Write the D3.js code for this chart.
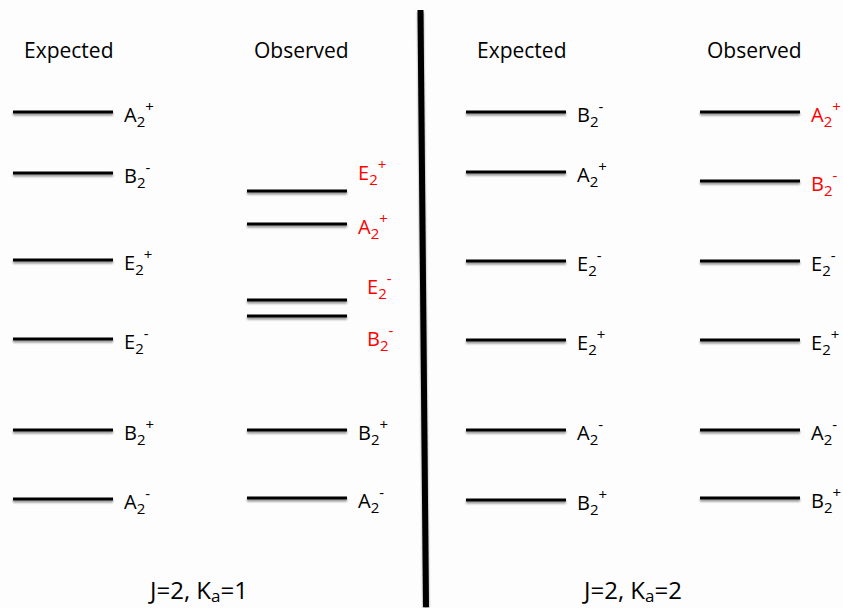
<!DOCTYPE html>
<html>
<head>
<meta charset="utf-8">
<script src="https://cdn.jsdelivr.net/npm/d3@7"></script>
<style>
  html, body { margin: 0; padding: 0; background: #fdfdfd; }
  svg { display: block; font-family: "Open Sans", "Noto Sans", sans-serif; }
</style>
</head>
<body>
<svg id="chart"></svg>
<script>
  // DATA
  const columns = ["Expected", "Observed"];
  const panelJ = [2, 2];
  const panelKa = [1, 2];

  // each level: symmetry letter, sign, energy (arbitrary units, high = top)
  const leftExpectedSym = ["A", "B", "E", "E", "B", "A"];
  const leftExpectedSign = ["+", "-", "+", "-", "+", "-"];
  const leftExpectedEnergy = [488, 427, 340, 261, 170, 101];

  const leftObservedSym = ["E", "A", "E", "B", "B", "A"];
  const leftObservedSign = ["+", "+", "-", "-", "+", "-"];
  const leftObservedEnergy = [409, 376, 300, 284, 170, 102];
  const leftObservedShifted = [true, true, true, true, false, false];

  const rightExpectedSym = ["B", "A", "E", "E", "A", "B"];
  const rightExpectedSign = ["-", "+", "-", "+", "-", "+"];
  const rightExpectedEnergy = [488, 428, 339, 260, 170, 100];

  const rightObservedSym = ["A", "B", "E", "E", "A", "B"];
  const rightObservedSign = ["+", "-", "-", "+", "-", "+"];
  const rightObservedEnergy = [488, 419, 339, 260, 170, 102];
  const rightObservedShifted = [true, true, false, false, false, false];

  // BUILD LEVEL TABLE
  const levels = [];
  function addColumn(panel, col, sym, sign, energy, shifted) {
    sym.forEach((s, i) => {
      levels.push({
        panel, col, sym: s, sign: sign[i], energy: energy[i],
        red: shifted ? shifted[i] : false, idx: i
      });
    });
  }
  addColumn(0, "Expected", leftExpectedSym, leftExpectedSign, leftExpectedEnergy);
  addColumn(0, "Observed", leftObservedSym, leftObservedSign, leftObservedEnergy, leftObservedShifted);
  addColumn(1, "Expected", rightExpectedSym, rightExpectedSign, rightExpectedEnergy);
  addColumn(1, "Observed", rightObservedSym, rightObservedSign, rightObservedEnergy, rightObservedShifted);

  // DIMENSIONS
  const dims = { width: 843, height: 608 };
  const LINE_LEN = 100;

  const svg = d3.select("#chart")
    .attr("width", dims.width)
    .attr("height", dims.height);

  // SCALES
  const y = d3.scaleLinear().domain([0, 600]).range([600, 0]);
  const xPanel = d3.scaleBand().domain([0, 1]).range([13, 919]);
  const xCol = d3.scalePoint().domain(columns).range([0, 234]);
  const lineX = (d) => xPanel(d.panel) + xCol(d.col);

  // crowded observed labels in the left panel get nudged
  const labelNudge = (d) => {
    if (d.panel === 0 && d.col === "Observed") {
      if (d.idx === 0) return { dx: 0, dy: -21 };
      if (d.idx === 2) return { dx: 9, dy: -16 };
      if (d.idx === 3) return { dx: 9, dy: 20 };
    }
    return { dx: 0, dy: 0 };
  };

  // SHADOW FILTER (user space, horizontal lines have a zero-height bbox)
  const defs = svg.append("defs");
  const f = defs.append("filter").attr("id", "shadow")
    .attr("filterUnits", "userSpaceOnUse")
    .attr("x", 0).attr("y", 0).attr("width", dims.width).attr("height", dims.height);
  f.append("feGaussianBlur").attr("in", "SourceAlpha").attr("stdDeviation", 1.2).attr("result", "blur");
  f.append("feOffset").attr("in", "blur").attr("dx", 0).attr("dy", 1.5).attr("result", "off");
  f.append("feComponentTransfer").attr("in", "off").attr("result", "soft")
    .append("feFuncA").attr("type", "linear").attr("slope", 0.45);
  const merge = f.append("feMerge");
  merge.append("feMergeNode").attr("in", "soft");
  merge.append("feMergeNode").attr("in", "SourceGraphic");

  svg.append("rect")
    .attr("width", dims.width)
    .attr("height", dims.height)
    .attr("fill", "#fdfdfd");

  // DIVIDER
  svg.append("line")
    .attr("x1", 420.5).attr("y1", 10)
    .attr("x2", 426).attr("y2", 607)
    .attr("stroke", "#000")
    .attr("stroke-width", 6)
    .attr("filter", "url(#shadow)");

  // COLUMN TITLES
  const titles = [];
  [0, 1].forEach((p) => columns.forEach((c) => titles.push({ panel: p, col: c })));
  svg.selectAll("text.title")
    .data(titles)
    .join("text")
    .attr("class", "title")
    .attr("x", (d) => xPanel(d.panel) + xCol(d.col) + (d.col === "Expected" ? 11 : 7))
    .attr("y", 58)
    .attr("font-size", 21)
    .attr("fill", "#000")
    .text((d) => d.col);

  // LEVEL LINES
  svg.append("g")
    .selectAll("line")
    .data(levels)
    .join("line")
    .attr("x1", lineX)
    .attr("x2", (d) => lineX(d) + LINE_LEN)
    .attr("y1", (d) => y(d.energy))
    .attr("y2", (d) => y(d.energy))
    .attr("stroke", "#000")
    .attr("stroke-width", 3)
    .attr("filter", "url(#shadow)");

  // LEVEL LABELS
  const labels = svg.append("g")
    .selectAll("text")
    .data(levels)
    .join("text")
    .attr("x", (d) => lineX(d) + LINE_LEN + 11 + labelNudge(d).dx)
    .attr("y", (d) => y(d.energy) + 10 + labelNudge(d).dy)
    .attr("font-size", 20)
    .attr("fill", (d) => (d.red ? "#f00" : "#000"));

  labels.append("tspan").text((d) => d.sym);
  labels.append("tspan").attr("dy", 5).attr("font-size", 15).text("2");
  labels.append("tspan")
    .attr("dy", -15)
    .attr("font-size", 15)
    .text((d) => (d.sign === "+" ? "+" : "-"));

  // FOOTERS
  const footerX = [150, 584];
  const footer = svg.selectAll("text.footer")
    .data([0, 1])
    .join("text")
    .attr("class", "footer")
    .attr("x", (d) => footerX[d])
    .attr("y", 599)
    .attr("font-size", 24)
    .attr("fill", "#000");
  footer.append("tspan").text((d) => "J=" + panelJ[d] + ", K");
  footer.append("tspan").attr("dy", 3).attr("font-size", 17).text("a");
  footer.append("tspan").attr("dy", -3).text((d) => "=" + panelKa[d]);
</script>
</body>
</html>
